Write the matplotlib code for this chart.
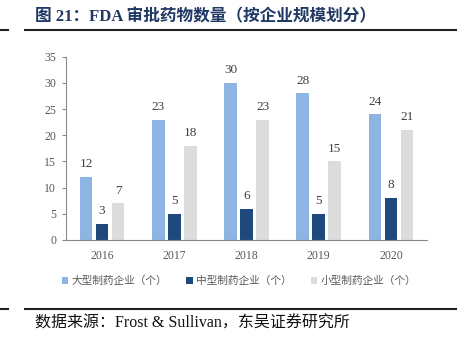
import matplotlib.pyplot as plt
import numpy as np

# 数据
years = ['2016', '2017', '2018', '2019', '2020']
large = [12, 23, 30, 28, 24]
medium = [3, 5, 6, 5, 8]
small = [7, 18, 23, 15, 21]
series_names = ['大型制药企业（个）', '中型制药企业（个）', '小型制药企业（个）']
colors = ['#8DB4E2', '#1F497D', '#DCDCDC']

plt.rcParams['font.family'] = ['Liberation Serif', 'Noto Sans CJK SC']

fig = plt.figure(figsize=(4.57, 3.41), dpi=100)
ax = fig.add_axes([66 / 457, 1 - 240 / 341, 361 / 457, (240 - 56.7) / 341])

x = np.arange(len(years))
w = 0.174
step = 0.222
for i, (vals, name, c) in enumerate(zip([large, medium, small], series_names, colors)):
    pos = x + (i - 1) * step
    bars = ax.bar(pos, vals, width=w, color=c, label=name)
    for xx, v in zip(pos, vals):
        ax.text(xx, v + 1.3, str(v), ha='center', va='bottom', fontsize=9.5, color='#404040')

ax.set_xlim(-0.5, 4.5)
ax.set_ylim(0, 35)
ax.set_yticks(range(0, 36, 5))
ax.set_xticks(x)
ax.set_xticklabels(years)
ax.tick_params(axis='y', labelsize=8.5, colors='#595959', length=3, color='#898989', pad=4)
ax.tick_params(axis='x', labelsize=8.5, colors='#595959', length=0, pad=7)
for s in ['top', 'right']:
    ax.spines[s].set_visible(False)
for s in ['left', 'bottom']:
    ax.spines[s].set_color('#898989')
    ax.spines[s].set_linewidth(0.8)

leg = fig.legend(loc='center', bbox_to_anchor=(239 / 457, 1 - 281 / 341), ncol=3, frameon=False,
                 handlelength=0.6, handleheight=0.6, handletextpad=0.3,
                 columnspacing=1.8, prop={'family': ['Noto Sans CJK SC'], 'size': 7.7})
for t in leg.get_texts():
    t.set_color('#595959')

# 标题
fig.text(35 / 457, 1 - 17 / 341, '图 21：FDA 审批药物数量（按企业规模划分）', fontsize=12,
         fontweight='bold', color='#1F3864', va='center', ha='left',
         family=['Liberation Serif', 'Noto Sans CJK SC'])
fig.add_artist(plt.Line2D([25 / 457, 1], [1 - 30 / 341] * 2, color='#222222', lw=1.5))
fig.add_artist(plt.Line2D([0, 8 / 457], [1 - 30 / 341] * 2, color='#222222', lw=1.5))

# 来源
fig.add_artist(plt.Line2D([25 / 457, 1], [1 - 309 / 341] * 2, color='#222222', lw=1.5))
fig.add_artist(plt.Line2D([0, 8 / 457], [1 - 309 / 341] * 2, color='#222222', lw=1.5))
fig.text(35 / 457, 1 - 324 / 341, '数据来源：Frost & Sullivan，东吴证券研究所', fontsize=11.5,
         color='#111111', va='center', ha='left', family=['Liberation Serif', 'Noto Sans CJK SC'])

fig.savefig('out.png', dpi=100)
